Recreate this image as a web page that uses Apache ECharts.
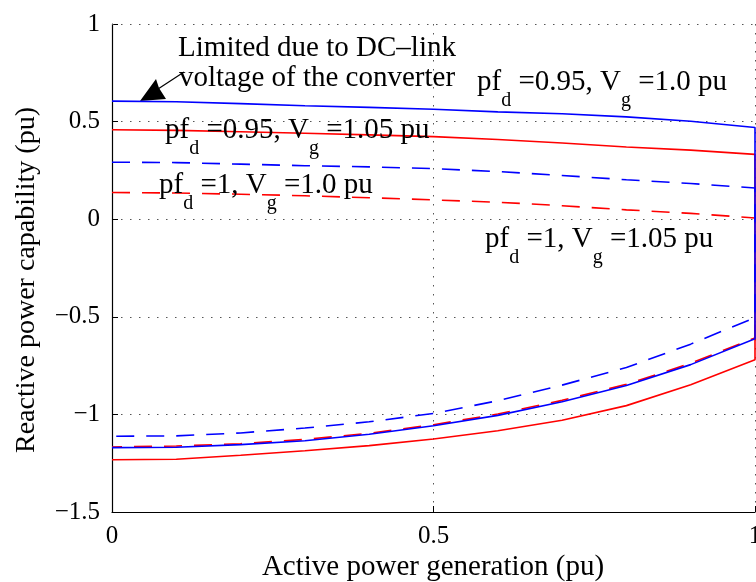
<!DOCTYPE html>
<html>
<head>
<meta charset="utf-8">
<script src="https://cdn.jsdelivr.net/npm/echarts@6/dist/echarts.min.js"></script>
<style>
  html, body { margin: 0; padding: 0; background: #fff; }
  #chart { width: 756px; height: 582px; }
</style>
</head>
<body>
<div id="chart"></div>
<script>
/* ================================
   DATA
================================ */
const xs = [0, 0.1, 0.2, 0.3, 0.4, 0.5, 0.6, 0.7, 0.8, 0.9, 1.0];

// pf_d = 0.95, Vg = 1.0 pu  (blue solid)
const upperB95 = [0.605, 0.602, 0.592, 0.581, 0.573, 0.563, 0.550, 0.540, 0.524, 0.502, 0.470];
const lowerB95 = [-1.170, -1.168, -1.155, -1.135, -1.102, -1.058, -1.005, -0.935, -0.852, -0.745, -0.612];

// pf_d = 0.95, Vg = 1.05 pu (red solid)
const upperR95 = [0.458, 0.455, 0.448, 0.440, 0.432, 0.423, 0.408, 0.390, 0.370, 0.354, 0.332];
const lowerR95 = [-1.232, -1.230, -1.209, -1.186, -1.160, -1.126, -1.084, -1.030, -0.955, -0.848, -0.720];

// pf_d = 1, Vg = 1.0 pu (blue dashed)
const upperB1 = [0.292, 0.290, 0.282, 0.274, 0.268, 0.259, 0.244, 0.224, 0.202, 0.183, 0.160];
const lowerB1 = [-1.112, -1.110, -1.095, -1.070, -1.038, -0.995, -0.930, -0.850, -0.760, -0.640, -0.504];

// pf_d = 1, Vg = 1.05 pu (red dashed)
const upperR1 = [0.137, 0.134, 0.128, 0.120, 0.110, 0.099, 0.087, 0.069, 0.048, 0.030, 0.006];
const lowerR1 = [-1.167, -1.162, -1.150, -1.128, -1.097, -1.053, -0.998, -0.928, -0.846, -0.738, -0.608];

const yTop = 1;

/* ================================
   HELPERS
================================ */
const FONT = "'Liberation Serif', 'DejaVu Serif', serif";
const BLUE = "#0000ff";
const RED = "#ff0000";
const DOTS = { color: "#555", width: 1, type: [1.5, 7.5] };

// upper boundary left->right, then lower boundary right->left (closed at x = 1)
function loop(upper, lower) {
  const top = xs.map((x, i) => [x, upper[i]]);
  const bottom = xs.map((x, i) => [x, lower[i]]).reverse();
  return top.concat(bottom);
}

function curve(name, upper, lower, color, dashed) {
  return {
    name: name,
    type: "line",
    data: loop(upper, lower),
    showSymbol: false,
    clip: false,
    smooth: false,
    lineStyle: { color: color, width: 1.6, type: dashed ? [18, 12] : "solid" },
    z: 3
  };
}

function fmt(v) {
  return String(v).replace("-", "\u2212");
}

const rich = {
  m: { fontFamily: FONT, fontSize: 29, lineHeight: 32, color: "#000" },
  s: { fontFamily: FONT, fontSize: 20, lineHeight: 20, padding: [38, 0, 0, 0], color: "#000" }
};

function label(x, y, pf, vg) {
  return {
    type: "text",
    left: x,
    top: y,
    z: 10,
    style: {
      text: "{m|pf}{s|d}{m| =" + pf + ", V}{s|g}{m| =" + vg + " pu}",
      rich: rich,
      fill: "#000"
    }
  };
}

/* ================================
   CHART
================================ */
const chart = echarts.init(document.getElementById("chart"), null, { renderer: "canvas" });

const series = [
  curve("pf 0.95, Vg 1.05", upperR95, lowerR95, RED, false),
  curve("pf 1, Vg 1.05", upperR1, lowerR1, RED, true),
  curve("pf 0.95, Vg 1.0", upperB95, lowerB95, BLUE, false),
  curve("pf 1, Vg 1.0", upperB1, lowerB1, BLUE, true)
];

// top dotted grid line (split line at max is drawn solid, so draw it as a markLine)
series[0].markLine = {
  silent: true,
  symbol: ["none", "none"],
  label: { show: false },
  lineStyle: DOTS,
  data: [{ yAxis: yTop }]
};

chart.setOption({
  animation: false,
  backgroundColor: "#fff",
  grid: { left: 112, right: 1, top: 24, bottom: 70, containLabel: false, outerBoundsMode: "none" },
  xAxis: {
    type: "value",
    min: 0, max: 1, interval: 0.5,
    axisLine: { show: true, onZero: false, lineStyle: { color: "#000", width: 1.2 } },
    axisTick: { show: true, inside: true, length: 6, lineStyle: { color: "#000" } },
    axisLabel: { fontFamily: FONT, fontSize: 25, color: "#000", margin: 12, formatter: fmt },
    splitLine: { show: true, lineStyle: DOTS }
  },
  yAxis: {
    type: "value",
    min: -1.5, max: yTop, interval: 0.5,
    axisLine: { show: true, onZero: false, lineStyle: { color: "#000", width: 1.2 } },
    axisTick: { show: true, inside: true, length: 6, lineStyle: { color: "#000" } },
    axisLabel: { fontFamily: FONT, fontSize: 25, color: "#000", margin: 12, formatter: fmt },
    splitLine: { show: true, showMaxLine: false, lineStyle: DOTS }
  },
  series: series,
  graphic: [
    // axis titles
    {
      type: "text", x: 27, y: 280, rotation: Math.PI / 2,
      style: { text: "Reactive power capability (pu)", font: "28px " + FONT, fill: "#000",
               align: "center", verticalAlign: "middle" }
    },
    {
      type: "text", x: 433, y: 567,
      style: { text: "Active power generation (pu)", font: "29px " + FONT, fill: "#000",
               align: "center", verticalAlign: "middle" }
    },
    // annotation
    {
      type: "text", x: 317, y: 48,
      style: { text: "Limited due to DC\u2013link", font: "29px " + FONT, fill: "#000",
               align: "center", verticalAlign: "middle" }
    },
    {
      type: "text", x: 317, y: 78,
      style: { text: "voltage of the converter", font: "29px " + FONT, fill: "#000",
               align: "center", verticalAlign: "middle" }
    },
    {
      type: "line",
      shape: { x1: 184, y1: 72, x2: 158, y2: 89 },
      style: { stroke: "#000", lineWidth: 1.2 }
    },
    {
      type: "polygon",
      shape: { points: [[140, 101], [156, 79], [159, 88], [166, 99]] },
      style: { fill: "#000" }
    },
    // curve labels
    label(477, 53, "0.95", "1.0"),
    label(165, 101, "0.95", "1.05"),
    label(159, 156, "1", "1.0"),
    label(485, 210, "1", "1.05")
  ]
});
</script>
</body>
</html>
